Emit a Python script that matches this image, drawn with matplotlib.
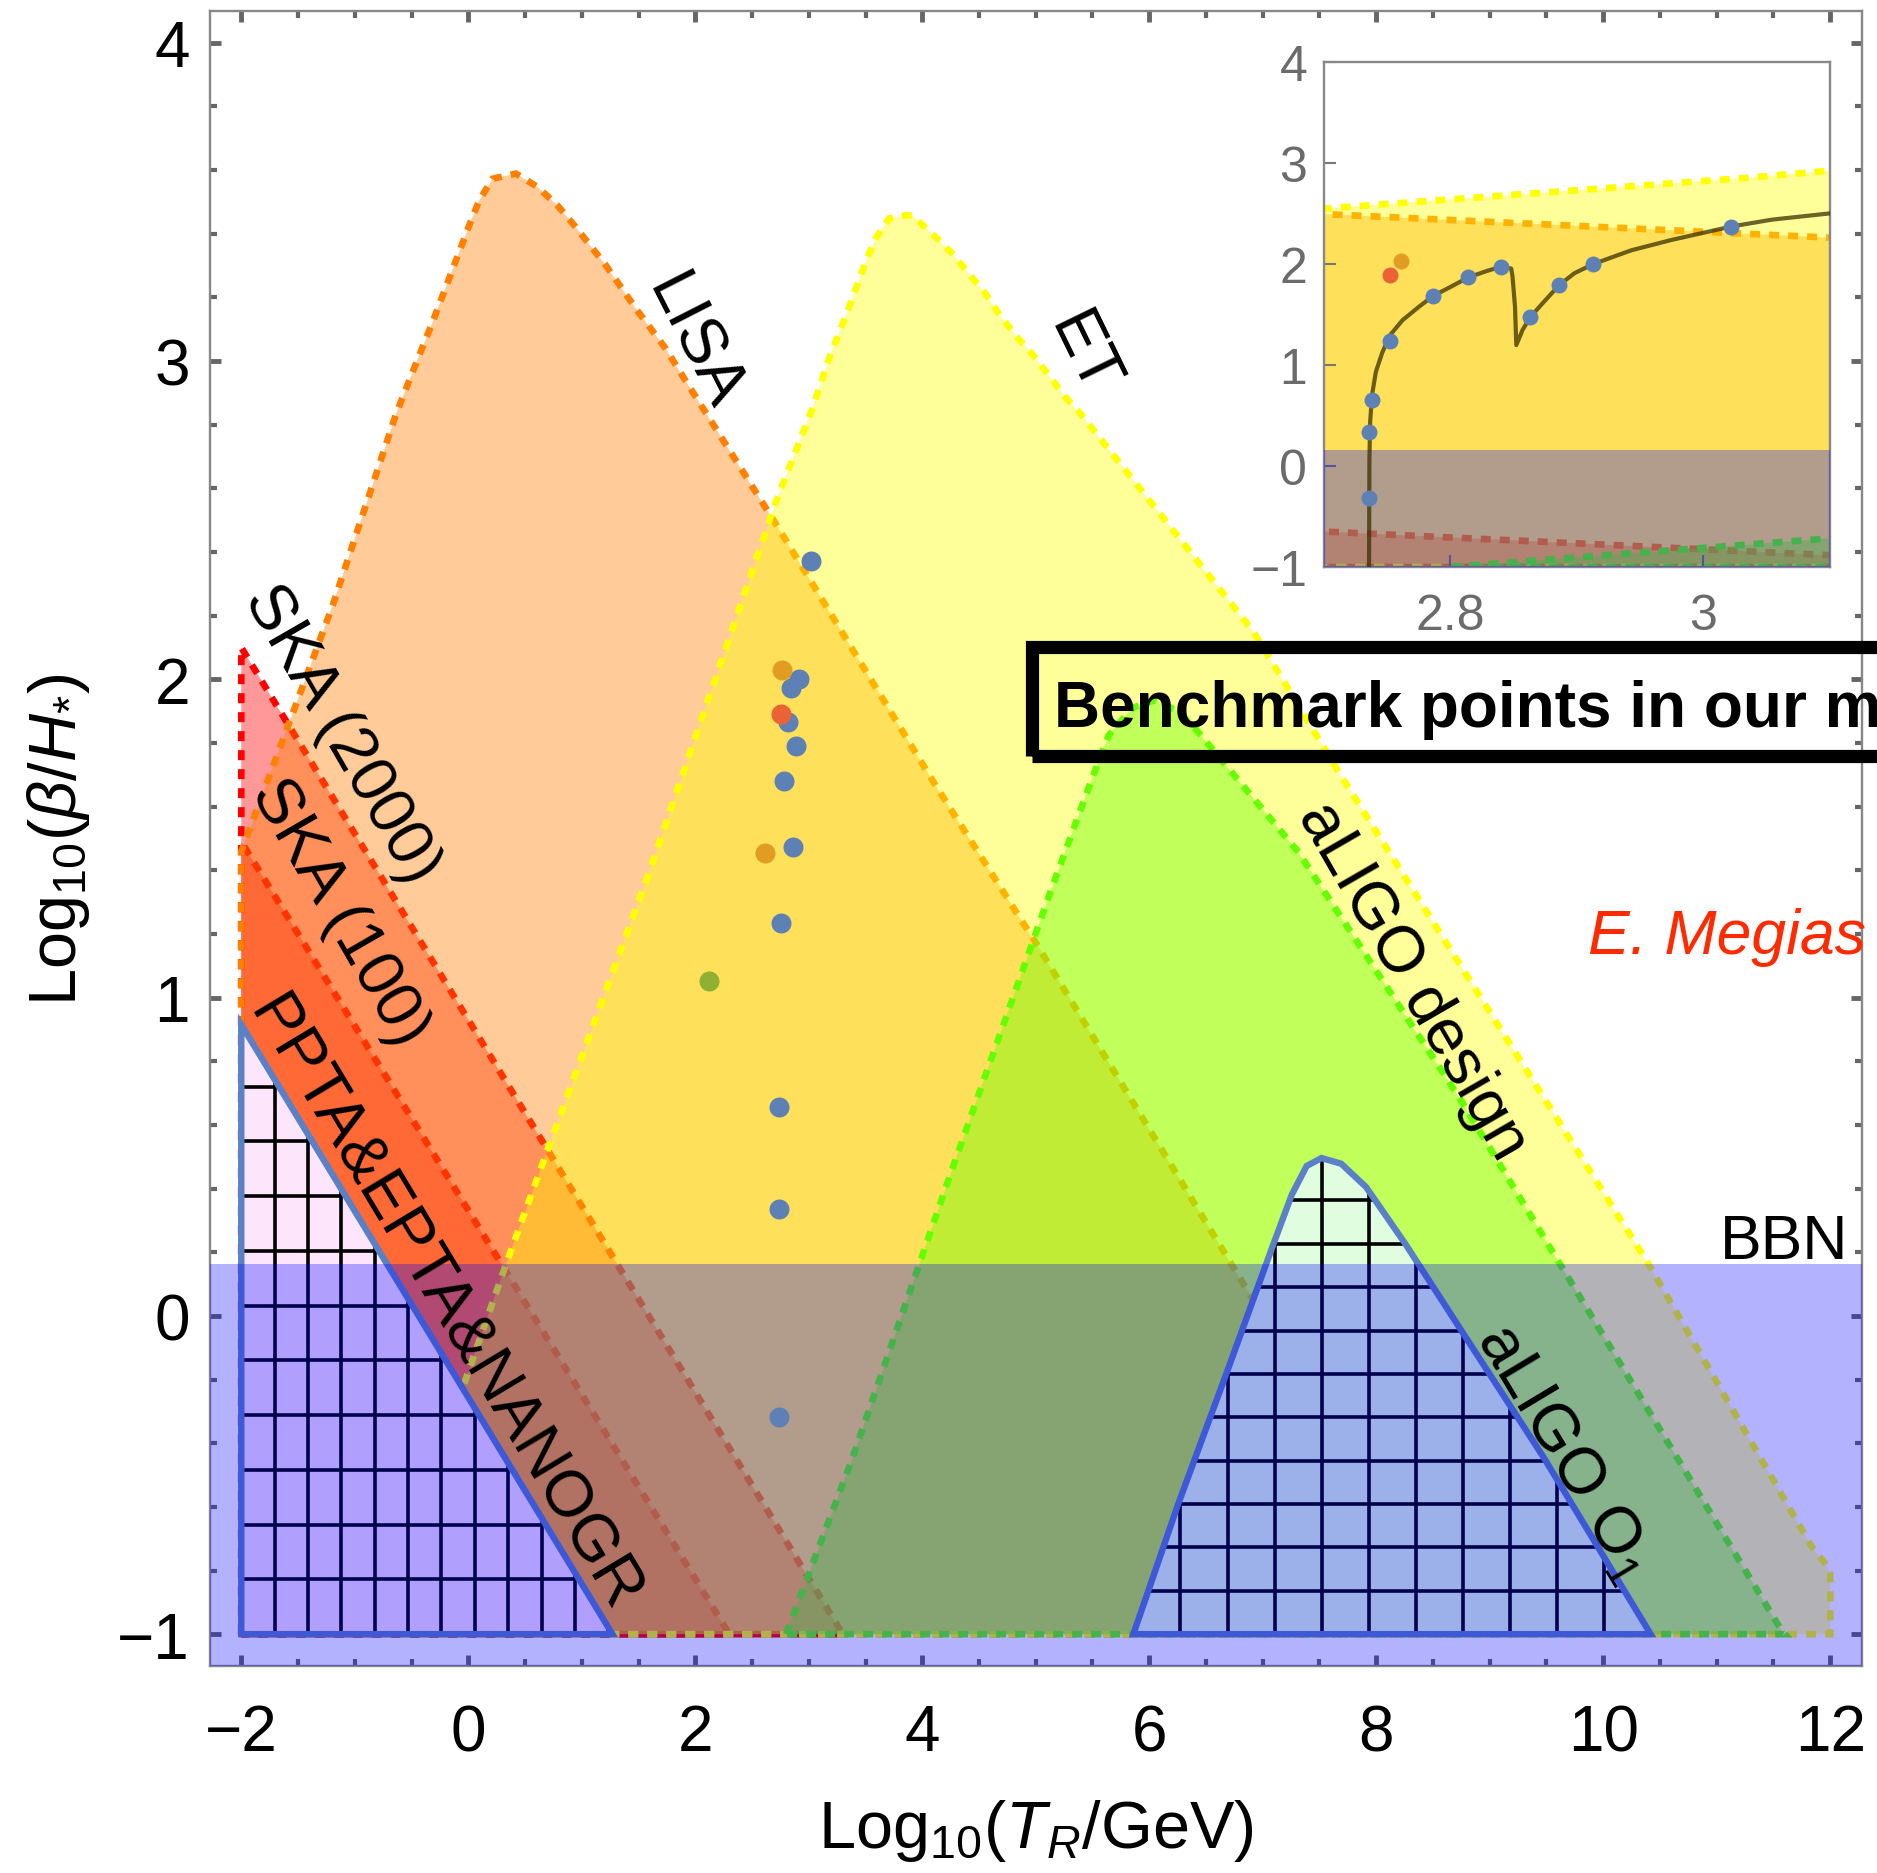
import numpy as np
import matplotlib.pyplot as plt
import matplotlib.colors as mcolors
from matplotlib.patches import Polygon, Rectangle
from matplotlib.ticker import MultipleLocator

plt.rcParams['font.family'] = ['Liberation Sans', 'DejaVu Sans']
plt.rcParams['mathtext.fontset'] = 'custom'
plt.rcParams['mathtext.rm'] = 'Liberation Sans'
plt.rcParams['mathtext.it'] = 'Liberation Sans:italic'
plt.rcParams['mathtext.bf'] = 'Liberation Sans:bold'

# sensitivity regions  (x = log10 T_R/GeV , y = log10 beta/H*)
ska2000_x = [-2.0, -2.0, 3.3]
ska2000_y = [-1.0, 2.1, -1.0]
ska100_x = [-2.0, -2.0, 2.3]
ska100_y = [-1.0, 1.49, -1.0]
lisa_x = [-2.0, -2.0, -1.957, -1.488, -1.195, -0.636, -0.49, -0.314, -0.152, 0.009, 0.097,
          0.214, 0.42, 0.61, 0.786, 0.933, 1.212, 1.476, 1.74, 1.857, 2.709, 4.117, 4.997,
          6.23, 6.864, 8.71]
lisa_y = [-1.0, 1.46, 1.5, 1.95, 2.232, 2.834, 2.966, 3.123, 3.275, 3.427, 3.505,
          3.573, 3.589, 3.547, 3.489, 3.427, 3.301, 3.165, 3.039, 2.971, 2.489, 1.667, 1.174,
          0.452, 0.08, -1.0]
et_x = [-0.82, -0.041, 0.332, 0.704, 1.593, 2.709, 3.031, 3.178, 3.339, 3.501, 3.589, 3.706,
        3.853, 3.911, 4.117, 4.263, 4.41, 4.557, 4.674, 4.821, 4.967, 5.115, 5.261, 5.408,
        6.92, 7.688, 10.396, 11.837, 11.95, 12.0, 12.0]
et_y = [-1.0, -0.218, 0.162, 0.527, 1.394, 2.557, 2.85, 3.008, 3.154, 3.312, 3.385, 3.448,
        3.458, 3.458, 3.39, 3.338, 3.275, 3.212, 3.149, 3.081, 3.023, 2.955, 2.887, 2.829,
        2.149, 1.698, 0.165, -0.725, -0.775, -0.81, -1.0]
aligo_x = [2.80, 3.383, 4.234, 5.129, 5.496, 5.643, 5.85, 6.05, 6.25, 6.406, 7.315, 8.739, 11.574, 11.6]
aligo_y = [-1.0, -0.449, 0.431, 1.332, 1.688, 1.824, 1.91, 1.935, 1.9, 1.845, 1.457, 0.682, -0.99, -1.0]
ppta_x = [-2.0, -2.0, 1.27]
ppta_y = [-1.0, 0.915, -1.0]
o1_x = [5.86, 6.253, 6.689, 7.081, 7.256, 7.387, 7.518, 7.692, 7.91, 8.259, 8.739, 9.481, 10.418]
o1_y = [-1.0, -0.593, -0.172, 0.213, 0.381, 0.471, 0.496, 0.478, 0.405, 0.225, -0.04, -0.448, -1.0]
bbn_top = 0.162

# benchmark points
blue_x = [2.7356, 2.7356, 2.738, 2.752, 2.786, 2.814, 2.840, 2.863, 2.886, 2.913, 3.022]
blue_y = [-0.318, 0.337, 0.655, 1.235, 1.682, 1.867, 1.973, 1.473, 1.792, 2.0, 2.371]
orange_x = [2.761, 2.612]
orange_y = [2.030, 1.454]
red_x = [2.752]
red_y = [1.890]
green_x = [2.121]
green_y = [1.051]

# model curve (inset)
curve_x = [2.7356, 2.7359, 2.7365, 2.738, 2.741, 2.746, 2.752, 2.762, 2.775, 2.786, 2.800,
           2.814, 2.829, 2.840, 2.848, 2.849, 2.851, 2.852, 2.857, 2.863, 2.873, 2.886, 2.898,
           2.913, 2.943, 2.975, 3.022, 3.054, 3.102]
curve_y = [-1.0, 0.061, 0.44, 0.705, 0.932, 1.121, 1.292, 1.443, 1.576, 1.682, 1.773,
           1.867, 1.932, 1.973, 1.955, 1.879, 1.576, 1.197, 1.348, 1.473, 1.614, 1.792, 1.909,
           2.0, 2.136, 2.239, 2.371, 2.439, 2.504]

DASH = (0, (1.5, 1.35))


def draw_panel(ax, msize, inset=False):
    regions = [(ska2000_x, ska2000_y, '#ff0000'), (ska100_x, ska100_y, '#ff0000'),
               (lisa_x, lisa_y, '#ff8000'), (et_x, et_y, '#ffff00'),
               (aligo_x, aligo_y, '#64ff00')]
    for i, (xs, ys, c) in enumerate(regions):
        ax.add_patch(Polygon(np.column_stack([xs, ys]), closed=True,
                             fc=mcolors.to_rgba(c, 0.4), ec=c, lw=4.8, ls=DASH,
                             zorder=1 + 0.1 * i))
    # hatched exclusion regions
    for xs, ys, fc, x0, dx, dy in [(ppta_x, ppta_y, '#fde5fb', -2 + 0.294, 0.294, 0.172),
                                   (o1_x, o1_y, '#e0fde0', 6.275, 0.4145, 0.1363)]:
        pts = np.column_stack([xs, ys])
        poly = Polygon(pts, closed=True, fc=fc, ec='none', zorder=3)
        ax.add_patch(poly)
        vl = ax.vlines(np.arange(x0, max(xs), dx), -1, max(ys), colors='k', lw=2.6, zorder=3.1)
        vl.set_clip_path(poly)
        hl = ax.hlines(np.arange(-1 + dy, max(ys), dy), min(xs), max(xs), colors='k', lw=2.6,
                       zorder=3.1)
        hl.set_clip_path(poly)
        ax.add_patch(Polygon(pts, closed=True, fill=False, ec='#5a80c8', lw=4.6, zorder=3.2))
    ax.axhspan(-1.2, bbn_top, fc=(0, 0, 1, 0.3), lw=0, zorder=4)
    if inset:
        ax.plot(curve_x, curve_y, color='#3a3000', alpha=0.75, lw=3, zorder=4.5)
    for xs, ys, c in [(blue_x, blue_y, '#5E81B5'), (orange_x, orange_y, '#E19C24'),
                      (red_x, red_y, '#EB6235'), (green_x, green_y, '#8FB032')]:
        ax.plot(xs, ys, 'o', color=c, ms=msize, mew=0, zorder=5)


fig = plt.figure(figsize=(18.77, 18.74), dpi=100)
ax = fig.add_axes([209.5 / 1877, 1 - 1667 / 1874, (1862 - 209.5) / 1877, (1667 - 12) / 1874])
draw_panel(ax, 14.4)
ax.set_xlim(-2.28, 12.28)
ax.set_ylim(-1.1, 4.1)
ax.set_xticks(np.arange(-2, 13, 2))
ax.set_yticks(np.arange(-1, 5, 1))
ax.xaxis.set_minor_locator(MultipleLocator(0.5))
ax.yaxis.set_minor_locator(MultipleLocator(0.2))
ax.tick_params(which='both', direction='in', top=True, right=True, color='#666666')
ax.tick_params(which='major', length=8, width=3.5, labelsize=46)
ax.tick_params(which='minor', length=5, width=3)
ax.tick_params(axis='x', which='major', pad=27)
ax.tick_params(axis='y', which='major', pad=14)
for s in ax.spines.values():
    s.set_color('#888888')
    s.set_linewidth(1.7)
ax.set_xlabel(r'Log$_{10}(T_R/\mathrm{GeV})$', fontsize=48)
ax.set_ylabel(r'Log$_{10}(\beta/H_{*})$', fontsize=48)
ax.xaxis.set_label_coords(0.5, -0.079)
ax.yaxis.set_label_coords(-0.071, 0.5)

# region labels
lab = dict(fontsize=47, ha='center', va='center', rotation_mode='anchor', zorder=6)
ax.text(-1.12, 1.83, 'SKA (2000)', rotation=-60, **lab)
ax.text(-1.14, 1.27, 'SKA (100)', rotation=-60, **lab)
ax.text(-0.219, 0.038, 'PPTA&EPTA&NANOGR', rotation=-59, **lab)
ax.text(1.983, 3.059, 'LISA', rotation=-63, **lab)
ax.text(5.408, 3.022, 'ET', rotation=-64, **lab)
ax.text(8.322, 1.054, 'aLIGO design', rotation=-60, **lab)
ax.text(9.655, -0.428, r'aLIGO O$_1$', rotation=-59, **lab)
ax.text(12.163, 0.183, 'BBN', fontsize=45, ha='right', va='baseline', zorder=6)
ax.text(9.868, 1.191, 'E. Megias', fontsize=45, style='italic', color='#ff2a00',
        ha='left', va='center', zorder=6)
ax.add_patch(Rectangle((4.965, 1.760), 9.0, 0.342, fill=False, ec='k', lw=9.5,
                       clip_on=False, zorder=7))
ax.text(5.163, 1.855, 'Benchmark points in our model', fontsize=46, fontweight='bold',
        ha='left', va='baseline', zorder=7)

# inset
axi = fig.add_axes([1324 / 1877, 1 - 568 / 1874, (1830 - 1324) / 1877, (568 - 63) / 1874])
axi.set_facecolor('white')
draw_panel(axi, 11.5, inset=True)
axi.set_xlim(2.7, 3.1)
axi.set_ylim(-1, 4)
axi.set_xticks([2.8, 3.0])
axi.set_xticklabels(['2.8', '3'])
axi.set_yticks(np.arange(-1, 5, 1))
axi.tick_params(direction='in', length=8.5, width=1.5, color='#777777', labelcolor='#6b6b6b',
                labelsize=36)
axi.tick_params(axis='x', pad=19)
axi.tick_params(axis='y', pad=12)
for s in axi.spines.values():
    s.set_color('#888888')
    s.set_linewidth(1.7)

fig.savefig('out.png', dpi=100, facecolor='white')
